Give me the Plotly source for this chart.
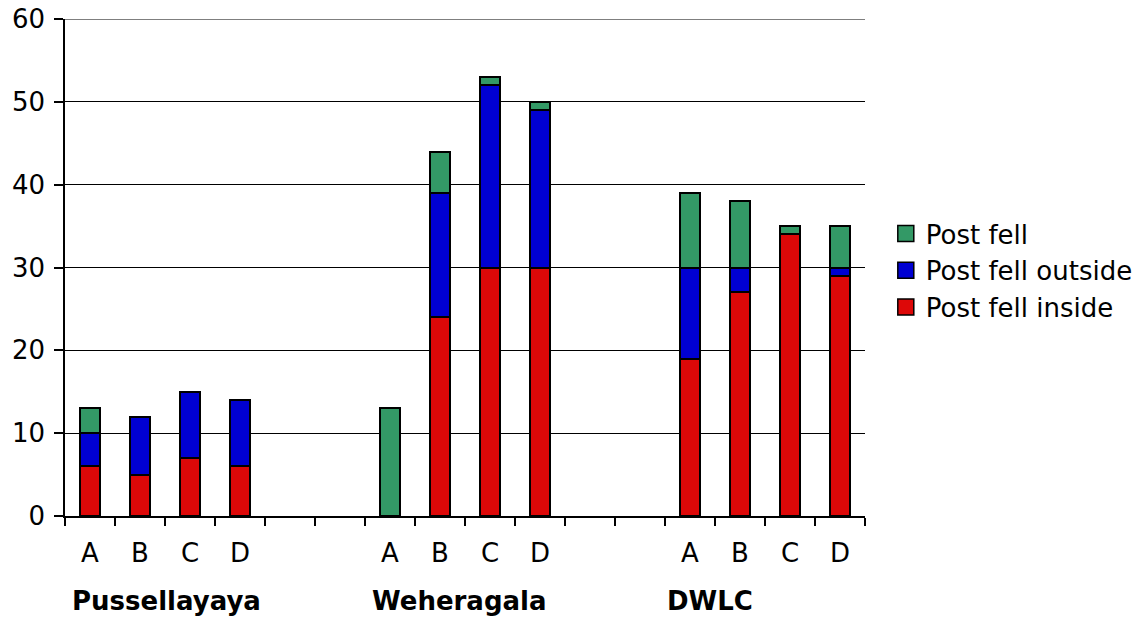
import plotly.graph_objects as go

# Sites and the four sample points at each site
sites = ["Pussellayaya", "Weheragala", "DWLC"]
points = ["A", "B", "C", "D"]

# Counts per site/point (A-D within each site, sites in order)
post_fell_inside = [6, 5, 7, 6, 0, 24, 30, 30, 19, 27, 34, 29]
post_fell_outside = [4, 7, 8, 8, 0, 15, 22, 19, 11, 3, 0, 1]
post_fell = [3, 0, 0, 0, 13, 5, 1, 1, 9, 8, 1, 5]

y_ticks = [0, 10, 20, 30, 40, 50, 60]

COL_INSIDE = "#DD0808"
COL_OUTSIDE = "#0000D2"
COL_FELL = "#339966"
FONT = "DejaVu Sans"
FS = 26

GAP = 2  # empty slots between sites
n_slots = len(sites) * len(points) + (len(sites) - 1) * GAP

# slot position of every bar
x_pos = []
for s in range(len(sites)):
    for p in range(len(points)):
        x_pos.append(s * (len(points) + GAP) + p)


def nz(vals):
    return [v if v else None for v in vals]


fig = go.Figure()
series = [
    ("Post fell inside", post_fell_inside, COL_INSIDE),
    ("Post fell outside", post_fell_outside, COL_OUTSIDE),
    ("Post fell", post_fell, COL_FELL),
]
for name, vals, col in series:
    fig.add_trace(go.Bar(
        x=x_pos, y=nz(vals), name=name, width=0.4,
        marker=dict(color=col, line=dict(color="black", width=2)),
        showlegend=False,
    ))
# legend swatches
for name, vals, col in series:
    fig.add_trace(go.Scatter(
        x=[None], y=[None], mode="markers", name=name,
        marker=dict(symbol="square", size=19, color=col,
                    line=dict(color="black", width=1.5)),
    ))

# axis carrying the point letters under each bar
fig.add_trace(go.Scatter(x=[None], y=[None], xaxis="x2", showlegend=False))

boundaries = [i - 0.5 for i in range(n_slots + 1)]

# site names under each group
site_centers = [1.52, 7.38, 12.4]
for name, xc in zip(sites, site_centers):
    fig.add_annotation(
        x=xc, y=0, xref="x", yref="paper", yshift=-85,
        text=f"<b>{name}</b>", showarrow=False,
        font=dict(family=FONT, size=FS, color="black"),
        yanchor="middle",
    )

# gridline at the top of the value range
fig.add_shape(type="line", xref="paper", yref="y", x0=0, x1=1,
              y0=y_ticks[-1], y1=y_ticks[-1],
              line=dict(color="black", width=1.2), layer="below")

fig.update_layout(
    width=1142, height=619,
    margin=dict(l=65, r=277, t=19, b=103, autoexpand=False),
    paper_bgcolor="white", plot_bgcolor="white",
    barmode="stack",
    font=dict(family=FONT, size=FS, color="black"),
    legend=dict(
        x=1.026, y=0.494, xanchor="left", yanchor="middle",
        traceorder="reversed", font=dict(size=FS),
        itemwidth=30, tracegroupgap=0,
    ),
    xaxis=dict(
        range=[-0.5, n_slots - 0.5], showgrid=False, zeroline=False,
        showline=True, linecolor="black", linewidth=1.5,
        tickvals=boundaries, ticktext=[""] * len(boundaries),
        ticks="outside", ticklen=8, tickwidth=1.5, tickcolor="black",
        automargin=False,
    ),
    xaxis2=dict(
        overlaying="x", side="bottom", matches="x",
        range=[-0.5, n_slots - 0.5], showgrid=False, zeroline=False,
        showline=False, ticks="",
        tickvals=x_pos, ticktext=points * len(sites),
        tickfont=dict(family=FONT, size=FS),
        ticklabelstandoff=19, automargin=False,
    ),
    yaxis=dict(
        range=[0, 60], tickvals=y_ticks,
        showgrid=True, gridcolor="black", gridwidth=1.2,
        zeroline=False, showline=True, linecolor="black", linewidth=1.5,
        ticks="outside", ticklen=9, tickwidth=1.5, tickcolor="black",
        tickfont=dict(family=FONT, size=FS),
        ticklabelstandoff=4, automargin=False,
    ),
)

fig.write_html("out.html")
